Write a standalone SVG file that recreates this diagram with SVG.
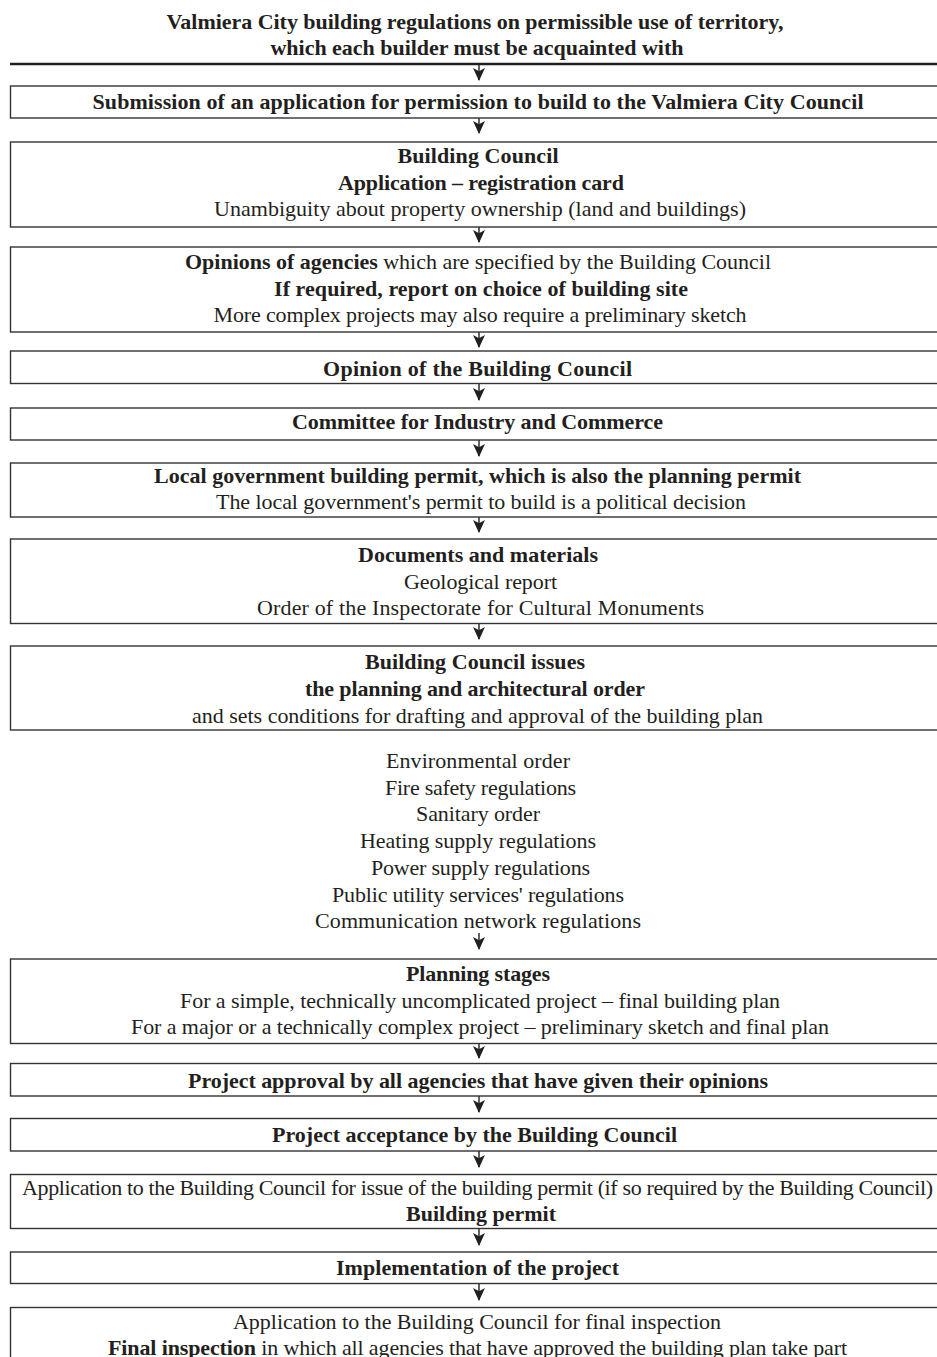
<svg xmlns="http://www.w3.org/2000/svg" width="937" height="1357" viewBox="0 0 937 1357">
<defs>
<style>
text{font-family:"Liberation Serif","Times New Roman",serif;font-size:22px;fill:#231f20;text-anchor:middle}
.b{font-weight:bold}
.box{fill:#fff;stroke:#333;stroke-width:1.4}
.con line{stroke:#231f20;stroke-width:1.4;fill:none}
</style>
<marker id="ah" viewBox="0 0 12 12" refX="11" refY="6" markerWidth="13" markerHeight="13" markerUnits="userSpaceOnUse" orient="auto">
<path d="M0,0.5 L12,6 L0,11.5 L3,6 Z" fill="#231f20"/>
</marker>
</defs>
<rect width="937" height="1357" fill="#fff"/>

<g id="title">
<text class="b" x="475" y="28.5" textLength="617">Valmiera City building regulations on permissible use of territory,</text>
<text class="b" x="477" y="54.5" textLength="413">which each builder must be acquainted with</text>
<line x1="10" y1="64" x2="937" y2="64" stroke="#231f20" stroke-width="2.5"/>
</g>

<g class="con">
<line x1="479" y1="65" x2="479" y2="80" marker-end="url(#ah)"/>
<line x1="479" y1="118" x2="479" y2="133" marker-end="url(#ah)"/>
<line x1="479" y1="227" x2="479" y2="242" marker-end="url(#ah)"/>
<line x1="479" y1="332" x2="479" y2="347" marker-end="url(#ah)"/>
<line x1="479" y1="384" x2="479" y2="400" marker-end="url(#ah)"/>
<line x1="479" y1="440" x2="479" y2="456" marker-end="url(#ah)"/>
<line x1="479" y1="517" x2="479" y2="532" marker-end="url(#ah)"/>
<line x1="479" y1="624" x2="479" y2="639" marker-end="url(#ah)"/>
<line x1="479" y1="933" x2="479" y2="949" marker-end="url(#ah)"/>
<line x1="479" y1="1044" x2="479" y2="1058" marker-end="url(#ah)"/>
<line x1="479" y1="1096" x2="479" y2="1112" marker-end="url(#ah)"/>
<line x1="479" y1="1151" x2="479" y2="1167" marker-end="url(#ah)"/>
<line x1="479" y1="1229" x2="479" y2="1245" marker-end="url(#ah)"/>
<line x1="479" y1="1284" x2="479" y2="1300" marker-end="url(#ah)"/>
</g>

<g id="n1">
<rect class="box" x="10.5" y="86" width="940" height="32"/>
<text class="b" x="478" y="108.5" textLength="771">Submission of an application for permission to build to the Valmiera City Council</text>
</g>

<g id="n2">
<rect class="box" x="10.5" y="142" width="940" height="85"/>
<text class="b" x="478" y="162.5" textLength="161">Building Council</text>
<text class="b" x="481" y="189.5" textLength="286">Application – registration card</text>
<text x="480" y="215.5" textLength="532">Unambiguity about property ownership (land and buildings)</text>
</g>

<g id="n3">
<rect class="box" x="10.5" y="247" width="940" height="85"/>
<text x="478" y="268.5" textLength="586"><tspan class="b">Opinions of agencies</tspan> which are specified by the Building Council</text>
<text class="b" x="481" y="295.5" textLength="414">If required, report on choice of building site</text>
<text x="480" y="321.5" textLength="533">More complex projects may also require a preliminary sketch</text>
</g>

<g id="n4">
<rect class="box" x="10.5" y="351" width="940" height="32.5"/>
<text class="b" x="477.5" y="375.5" textLength="309">Opinion of the Building Council</text>
</g>

<g id="n5">
<rect class="box" x="10.5" y="408" width="940" height="32"/>
<text class="b" x="477.5" y="428.5" textLength="371">Committee for Industry and Commerce</text>
</g>

<g id="n6">
<rect class="box" x="10.5" y="463" width="940" height="54"/>
<text class="b" x="477.5" y="482.5" textLength="647">Local government building permit, which is also the planning permit</text>
<text x="481" y="508.5" textLength="530">The local government's permit to build is a political decision</text>
</g>

<g id="n7">
<rect class="box" x="10.5" y="539" width="940" height="84.5"/>
<text class="b" x="478" y="561.5" textLength="240">Documents and materials</text>
<text x="480.5" y="588.5" textLength="153">Geological report</text>
<text x="480.5" y="614.5" textLength="447">Order of the Inspectorate for Cultural Monuments</text>
</g>

<g id="n8">
<rect class="box" x="10.5" y="646" width="940" height="84"/>
<text class="b" x="475" y="668.5" textLength="220">Building Council issues</text>
<text class="b" x="475" y="695.5" textLength="340">the planning and architectural order</text>
<text x="477.5" y="722.5" textLength="571">and sets conditions for drafting and approval of the building plan</text>
</g>

<g id="list">
<text x="478" y="767.5" textLength="184">Environmental order</text>
<text x="480.5" y="794.5" textLength="191">Fire safety regulations</text>
<text x="478" y="820.5" textLength="124">Sanitary order</text>
<text x="478" y="847.5" textLength="236">Heating supply regulations</text>
<text x="480.5" y="874.5" textLength="219">Power supply regulations</text>
<text x="478" y="901.5" textLength="292">Public utility services' regulations</text>
<text x="478" y="927.5" textLength="326">Communication network regulations</text>
</g>

<g id="n9">
<rect class="box" x="10.5" y="959" width="940" height="84.5"/>
<text class="b" x="478" y="980.5" textLength="144">Planning stages</text>
<text x="480" y="1007.5" textLength="600">For a simple, technically uncomplicated project – final building plan</text>
<text x="480" y="1033.5" textLength="698">For a major or a technically complex project – preliminary sketch and final plan</text>
</g>

<g id="n10">
<rect class="box" x="10.5" y="1063.5" width="940" height="32.5"/>
<text class="b" x="478" y="1087.5" textLength="580">Project approval by all agencies that have given their opinions</text>
</g>

<g id="n11">
<rect class="box" x="10.5" y="1118.5" width="940" height="32.5"/>
<text class="b" x="474.5" y="1141.5" textLength="405">Project acceptance by the Building Council</text>
</g>

<g id="n12">
<rect class="box" x="10.5" y="1174.5" width="940" height="54"/>
<text x="477.5" y="1194.5" textLength="911">Application to the Building Council for issue of the building permit (if so required by the Building Council)</text>
<text class="b" x="481" y="1220.5" textLength="150">Building permit</text>
</g>

<g id="n13">
<rect class="box" x="10.5" y="1252" width="940" height="31.5"/>
<text class="b" x="477.5" y="1274.5" textLength="283">Implementation of the project</text>
</g>

<g id="n14">
<rect class="box" x="10.5" y="1307.5" width="940" height="80"/>
<text x="477" y="1328.5" textLength="488">Application to the Building Council for final inspection</text>
<text x="477.5" y="1354.5" textLength="739"><tspan class="b">Final inspection</tspan> in which all agencies that have approved the building plan take part</text>
</g>
</svg>
